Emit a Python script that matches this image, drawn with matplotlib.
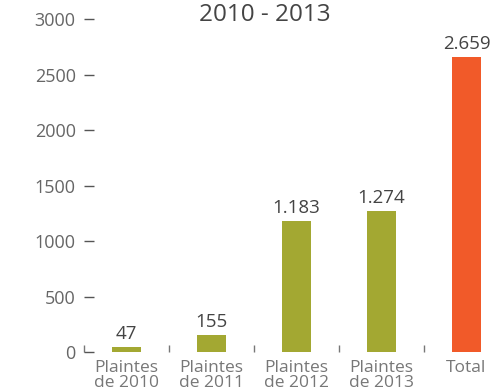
import matplotlib.pyplot as plt

categories = ['Plaintes\nde 2010', 'Plaintes\nde 2011', 'Plaintes\nde 2012',
              'Plaintes\nde 2013', 'Total']
values = [47, 155, 1183, 1274, 2659]
value_labels = ['47', '155', '1.183', '1.274', '2.659']
bar_colors = ['#A3A832', '#A3A832', '#A3A832', '#A3A832', '#F15A29']
yticks = [0, 500, 1000, 1500, 2000, 2500, 3000]

plt.rcParams['font.family'] = ['Open Sans', 'DejaVu Sans']

fig = plt.figure(figsize=(4.9, 3.91), dpi=100)
# axes reaches past the right edge, like the original crop
ax = fig.add_axes([84 / 490, 39 / 391, 425 / 490, 344 / 391])

x = range(len(categories))
ax.bar(x, values, width=0.35, color=bar_colors)

for i, v in enumerate(values):
    ax.annotate(value_labels[i], (i, v), xytext=(0, 2.5), textcoords='offset points',
                ha='center', va='bottom', fontsize=13.5, color='#444444')

ax.set_xlim(-0.5, 4.5)
ax.set_ylim(0, 3100)

for s in ax.spines.values():
    s.set_visible(False)

ax.set_yticks(yticks)
ax.set_yticklabels([str(t) for t in yticks])
ax.tick_params(axis='y', direction='in', length=7, width=1, color='#555555',
               labelsize=13, labelcolor='#666666', pad=6)

ax.set_xticks(list(x))
ax.set_xticklabels(categories, linespacing=0.85)
ax.tick_params(axis='x', which='major', length=0, labelsize=12.5,
               labelcolor='#777777', pad=6)
ax.set_xticks([-0.5, 0.5, 1.5, 2.5, 3.5], minor=True)
ax.tick_params(axis='x', which='minor', direction='in', length=5, width=1,
               color='#777777')

fig.text(0.54, 0.962, '2010 - 2013', ha='center', va='center',
         fontsize=17.5, color='#444444')

plt.savefig('out.png', dpi=100)
